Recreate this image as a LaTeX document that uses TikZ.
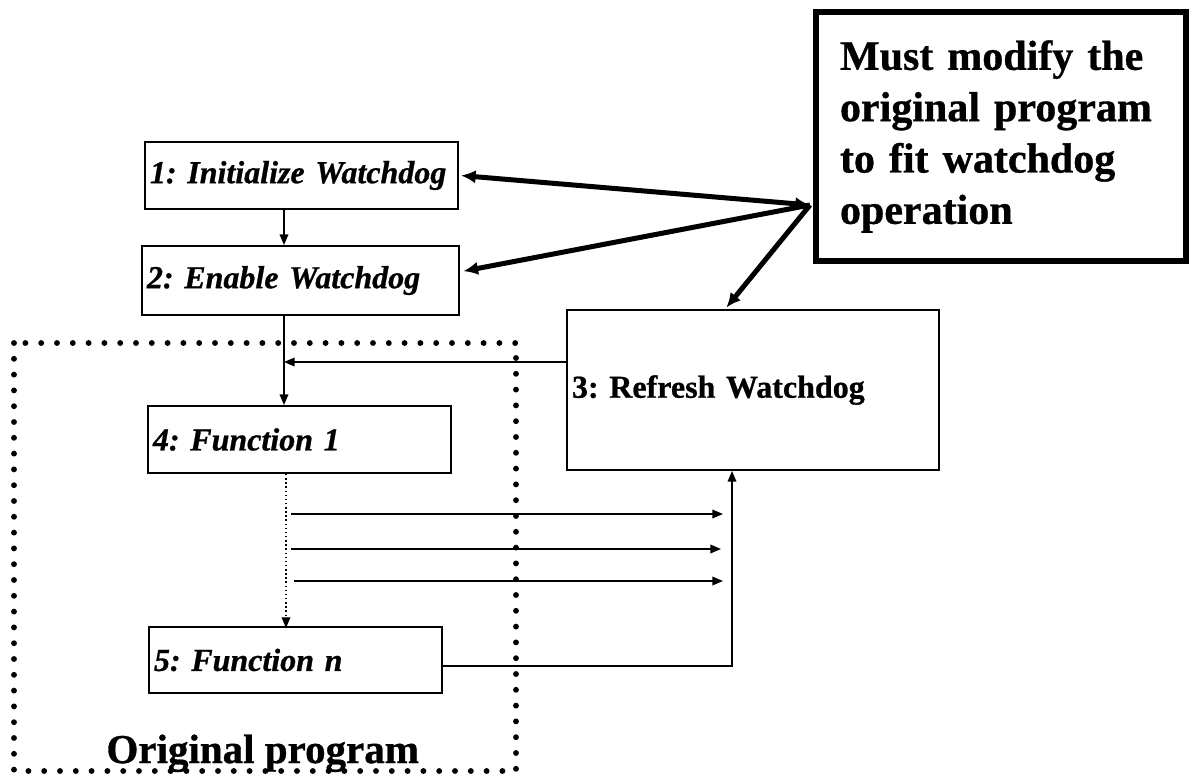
\documentclass[tikz,border=0pt]{standalone}
\usepackage{fontspec}
\setmainfont{Liberation Serif}[BoldFeatures={FakeBold=0.8}, BoldItalicFeatures={FakeBold=0.8}]
\usetikzlibrary{arrows.meta,calc}
\tikzset{every picture/.style={line width=0.75pt}}
\frenchspacing

\begin{document}
\begin{tikzpicture}[x=0.75pt,y=0.75pt,yscale=-1,xscale=1,
  stepbox/.style={draw, line width=1.5pt, anchor=north west, inner xsep=3.75pt, inner ysep=0pt, align=left, font=\fontsize{24}{28}\selectfont\bfseries\itshape},
  notebox/.style={draw, line width=4.5pt, anchor=north west, inner xsep=18pt, inner ysep=0pt, align=left, font=\fontsize{31.5}{38.5}\selectfont\bfseries},
  thinarrow/.style={line width=1.1pt, -{Triangle[length=8pt,width=6.5pt]}},
  thickarrow/.style={line width=3.75pt, -{Latex[length=11pt,width=10pt]}},
  dotframe/.style={line width=4.4pt, line cap=round, dash pattern=on 0pt off 11.85pt}]
\useasboundingbox (0,0) rectangle (1196,776);

%Shape: Dotted frame
\draw [dotframe] (14,343) rectangle (516,771) ;

%Shape: Rectangle
\node [stepbox, text width=227.25pt, minimum height=50.25pt] (init) at (144,141) {1: Initialize Watchdog};
%Shape: Rectangle
\node [stepbox, text width=230.25pt, minimum height=51.75pt] (enable) at (141,245) {2: Enable Watchdog};
%Shape: Rectangle
\node [stepbox, text width=271.5pt, minimum height=120pt, font=\fontsize{24}{28}\selectfont\bfseries] (refresh) at (566,309) {3: Refresh Watchdog};
%Shape: Rectangle
\node [stepbox, text width=219.75pt, minimum height=50.25pt] (func1) at (147,405) {4: Function 1};
%Shape: Rectangle
\node [stepbox, text width=212.25pt, minimum height=49.5pt] (funcn) at (148,626) {5: Function n};
%Shape: Rectangle
\node [notebox, text width=241.5pt, minimum height=186.75pt] (note) at (813,9) {Must modify the\\original program\\to fit watchdog\\operation};

% Text Node
\node [anchor=base west, inner sep=0pt, font=\fontsize{30.75}{36}\selectfont\bfseries] (origlabel) at (106,763) {Original program};

\coordinate (spine) at (284,0);
\coordinate (back) at (284,362);
\coordinate (dotx) at (286,0);
\coordinate (up) at (732,665);
\coordinate (hub) at (810,205);

%Straight Lines
\draw [thinarrow] (init.south -| spine) -- (enable.north -| spine) ;
\draw [thinarrow] (enable.south -| spine) -- (func1.north -| spine) ;
\draw [thinarrow] (refresh.west |- back) -- (back) ;
\draw [thinarrow, dotted, line width=0.9pt] (func1.south -| dotx) -- ([yshift=1.5pt]funcn.north -| dotx) ;
\draw [thinarrow] ([yshift=4.5pt]funcn.east) -| (refresh.south -| up) ;
\foreach \i/\y/\a/\b in {1/514/291/723, 2/549/291/721, 3/581/294/723} {
  \coordinate (s\i) at (\a,\y);
  \coordinate (e\i) at (\b,\y);
  \draw [thinarrow] (s\i) -- (e\i) ;
}

%Straight Lines (thick)
\draw [thickarrow, {Latex[length=11pt,width=10pt]}-{Latex[length=11pt,width=10pt]}] (hub) -- ([xshift=1.5pt]init.east) ;
\draw [thickarrow] (hub) -- ([xshift=2.5pt,yshift=-7pt]enable.east) ;
\draw [thickarrow] (hub) -- ([xshift=-20pt,yshift=-1pt]refresh.north) ;

\end{tikzpicture}
\end{document}
